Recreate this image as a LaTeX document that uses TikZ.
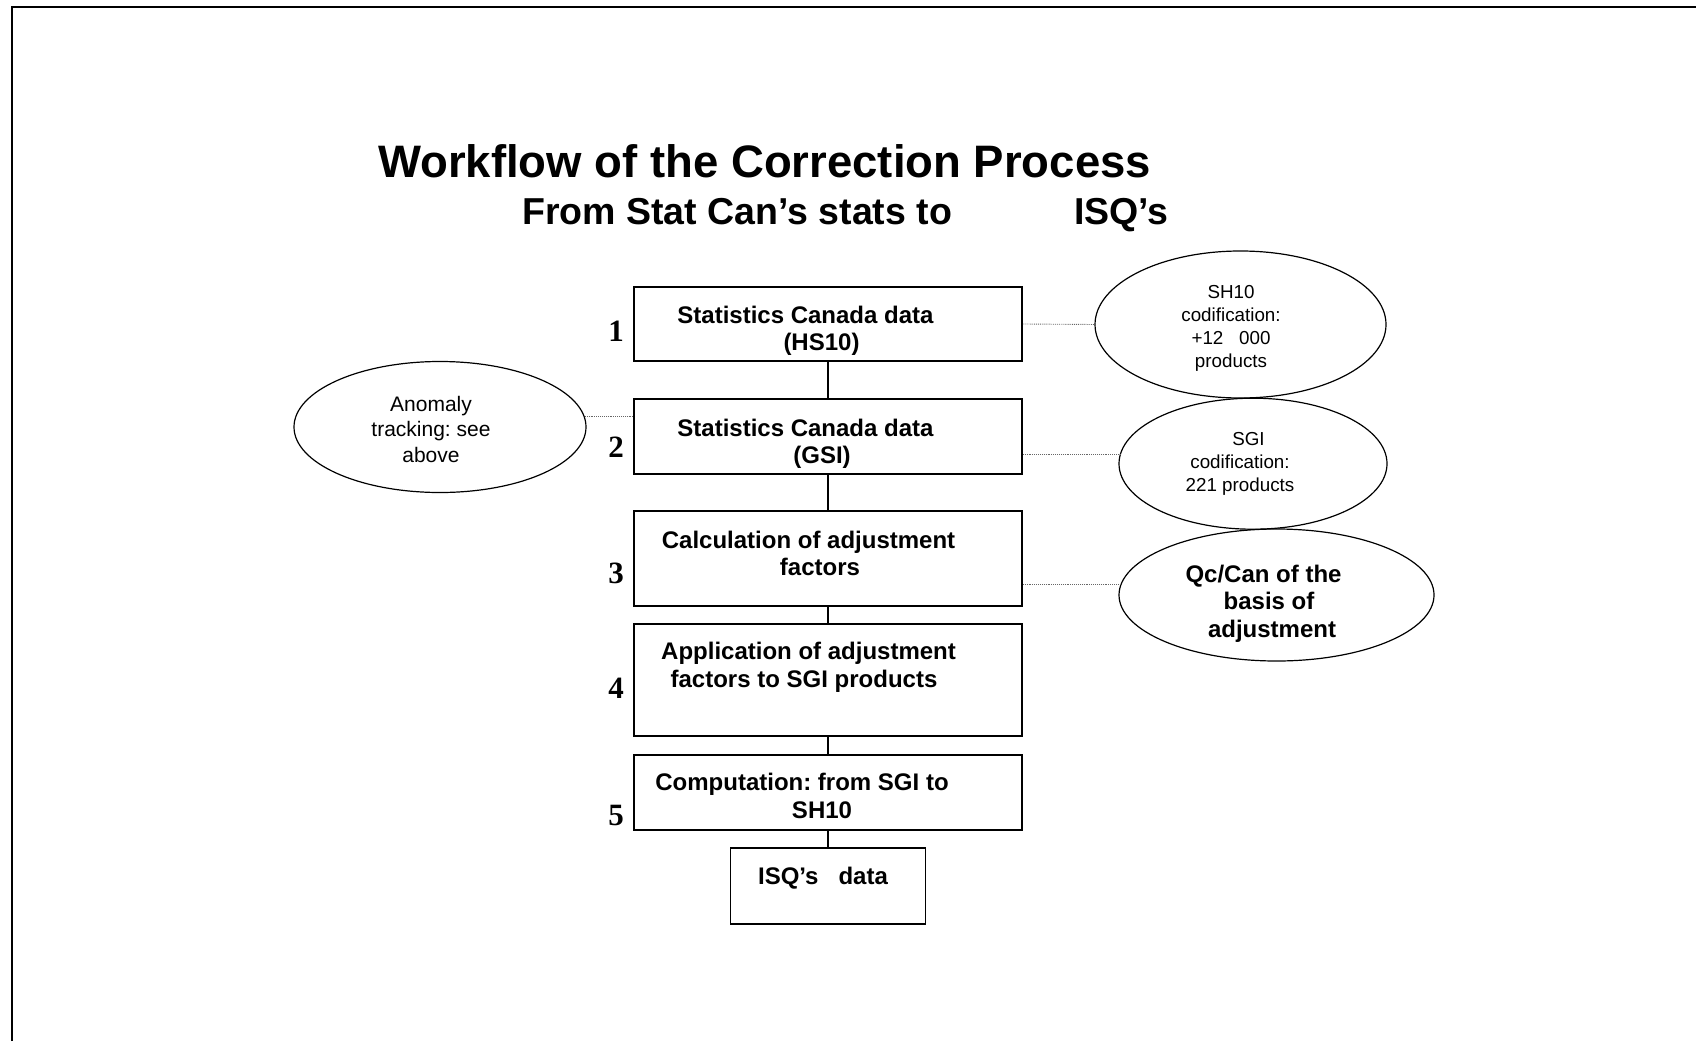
\documentclass[tikz,border=0pt]{standalone}
\usepackage{fontspec}
\setmainfont{Liberation Sans}
\newfontfamily\numfont{Liberation Serif}
\usetikzlibrary{positioning, calc, shapes.geometric}

\tikzset{
  stepbox/.style={draw, line width=1.6pt, minimum width=388pt, inner sep=0pt},
  steptext/.style={font=\fontsize{24}{27.5}\selectfont\bfseries, align=center, inner sep=0pt, anchor=north},
  stepnum/.style={font=\numfont\fontsize{31}{31}\selectfont\bfseries, inner sep=0pt, anchor=base east},
  note/.style={draw, ellipse, line width=1.2pt, inner sep=0pt},
  notetext/.style={font=\fontsize{18.8}{23}\selectfont, align=center, inner sep=0pt},
  flow/.style={line width=1.1pt},
  link/.style={densely dotted, line width=0.9pt, black!60},
}

\begin{document}
\frenchspacing
\begin{tikzpicture}[x=1pt, y=-1pt]

\useasboundingbox (0,0) rectangle (1696,1041);

% Page frame
\draw[line width=2.4pt] (12,1041) -- (12,7.3) -- (1696,7.3);

% Title
\node[font=\fontsize{45.5}{45.5}\selectfont\bfseries, anchor=base west, inner sep=0pt] (title) at (378,177) {Workflow of the Correction Process};
\node[font=\fontsize{37.5}{37.5}\selectfont\bfseries, anchor=base west, inner sep=0pt] (subtitle) at (522,224) {From Stat Can’s stats to\hspace{122pt}ISQ’s};

% Steps
\node[stepbox, minimum height=74pt] (b1) at (828,324) {};
\node[stepbox, minimum height=75pt] (b2) at (828,436.5) {};
\node[stepbox, minimum height=95pt] (b3) at (828,558.5) {};
\node[stepbox, minimum height=112pt] (b4) at (828,680) {};
\node[stepbox, minimum height=75pt] (b5) at (828,792.5) {};
\node[stepbox, minimum width=195pt, minimum height=76pt] (b6) at (828,886) {};

\node[steptext] (t1) at ($(b1.north)+(-6.5,19.4)$) {Statistics Canada data\hspace*{32pt}\\(HS10)};
\node[steptext] (t2) at ($(b2.north)+(-6,20.7)$) {Statistics Canada data\hspace*{33pt}\\(GSI)};
\node[steptext] (t3) at ($(b3.north)+(-8,20.7)$) {Calculation of adjustment\hspace*{23pt}\\factors};
\node[steptext] (t4) at ($(b4.north)+(-7,18.7)$) {Application of adjustment\hspace*{25pt}\\factors to SGI products\hspace*{34pt}};
\node[steptext] (t5) at ($(b5.north)+(-6,18.7)$) {Computation: from SGI to\hspace*{40pt}\\SH10};
\node[steptext] (t6) at ($(b6.north)+(-5,19.4)$) {ISQ’s~~~data};

% Step numbers
\node[stepnum] (num1) at (624,341.5) {1};
\node[stepnum] (num2) at (624,457) {2};
\node[stepnum] (num3) at (624,583) {3};
\node[stepnum] (num4) at (624,698) {4};
\node[stepnum] (num5) at (624,825) {5};

\foreach \a/\b in {b1/b2, b2/b3, b3/b4, b4/b5, b5/b6}
  \draw[flow] (\a.south) -- (\b.north);

% Side notes
\node[note, minimum width=292pt, minimum height=131pt] (note0) at (440,427) {};
\node[note, minimum width=291pt, minimum height=147pt] (note1) at (1240.5,324.5) {};
\node[note, minimum width=268pt, minimum height=131pt] (note2) at (1253,463.7) {};
\node[note, minimum width=315pt, minimum height=132pt] (note3) at (1276.5,595) {};

\node[notetext, font=\fontsize{21}{25.5}\selectfont] (nt0) at (431,429) {Anomaly\\tracking: see\\above};
\node[notetext] (nt1) at (1231,328.4) {SH10\\codification:\\+12~~~000\\products};
\node[notetext] (nt2) at (1240,464) {\hspace*{17pt}SGI\\codification:\\221 products};
\node[notetext, font=\fontsize{24}{27.5}\selectfont\bfseries] (nt3) at (1267,603.5) {Qc/Can of the\hspace*{7pt}\\\hspace*{4pt}basis of\\\hspace*{10pt}adjustment};

\draw[link] (note0.4) -- (note0.4 -| b2.west);
\draw[link] (b1.east) -- (note1.west);
\draw[link] (note2.176 -| b2.east) -- (note2.176);
\draw[link] (note3.176 -| b3.east) -- (note3.176);

\end{tikzpicture}
\end{document}
